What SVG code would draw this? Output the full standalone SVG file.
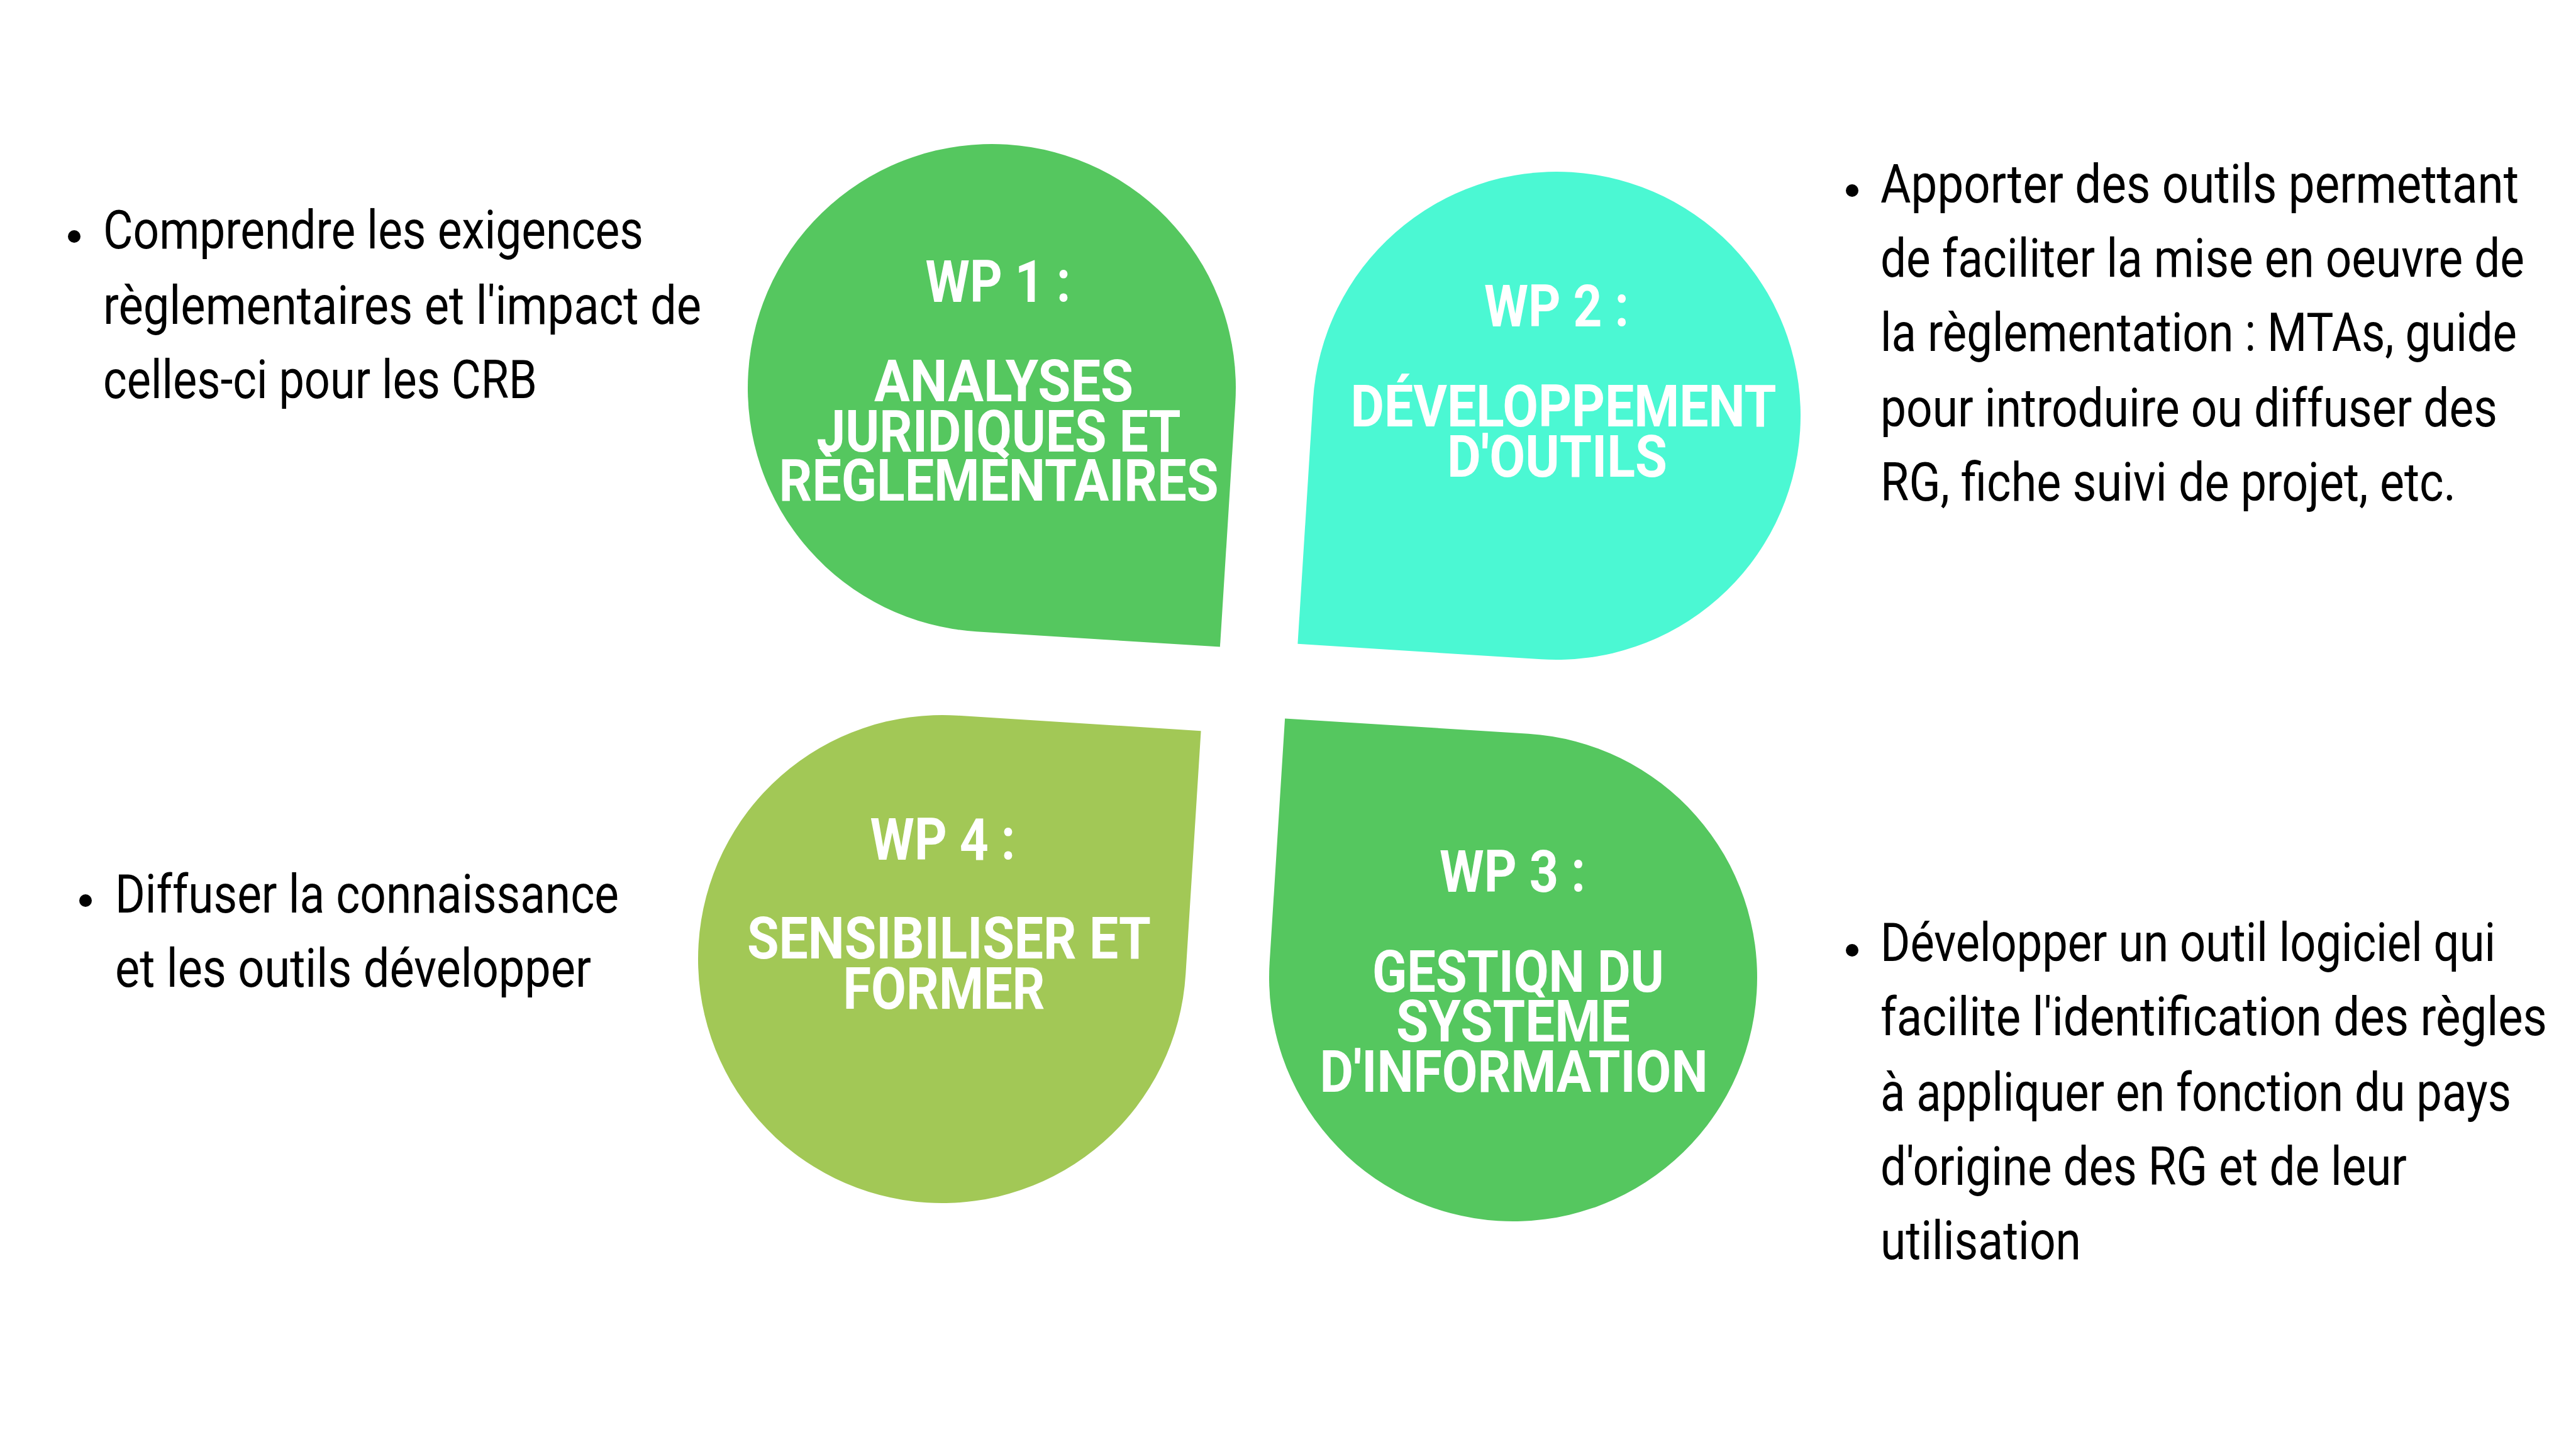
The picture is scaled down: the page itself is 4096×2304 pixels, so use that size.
<svg xmlns="http://www.w3.org/2000/svg" width="4096" height="2304" viewBox="0 0 4096 2304">
<defs>
<style>
.title{font-family:Roboto,"Liberation Sans",sans-serif;font-weight:700;font-size:92px;fill:#ffffff;text-anchor:middle}
.body{font-family:Roboto,"Liberation Sans",sans-serif;font-weight:400;font-size:85px;fill:#000000}
.g1{fill:#55C75F}
.g2{fill:#4BF8D3}
.g4{fill:#A2C856}
.dot{fill:#000000}
</style>
<path id="drop" d="M -388 0 A 388 388 0 0 1 0 -388 A 388 388 0 0 1 388 0 L 388 388 L 0 388 A 388 388 0 0 1 -388 0 Z"/>
</defs>
<rect width="4096" height="2304" fill="#ffffff"/>
<g id="connectors"></g>
<g id="wp1">
<use href="#drop" class="g1" transform="translate(1577 617) rotate(3.6)"/>
<text class="title" x="1587" y="480" textLength="231" lengthAdjust="spacingAndGlyphs">WP 1 :</text>
<text class="title" x="1596" y="638" textLength="412" lengthAdjust="spacingAndGlyphs">ANALYSES</text>
<text class="title" x="1588" y="718" textLength="579" lengthAdjust="spacingAndGlyphs">JURIDIQUES ET</text>
<text class="title" x="1588" y="796" textLength="699" lengthAdjust="spacingAndGlyphs">RÈGLEMENTAIRES</text>
</g>
<g id="wp2">
<use href="#drop" class="g2" transform="translate(2475 661) rotate(93.6)"/>
<text class="title" x="2475" y="519" textLength="230" lengthAdjust="spacingAndGlyphs">WP 2 :</text>
<text class="title" x="2486" y="678" textLength="677" lengthAdjust="spacingAndGlyphs">DÉVELOPPEMENT</text>
<text class="title" x="2476" y="758" textLength="350" lengthAdjust="spacingAndGlyphs">D'OUTILS</text>
</g>
<g id="wp3">
<use href="#drop" class="g1" transform="translate(2406 1554) rotate(183.6)"/>
<text class="title" x="2405" y="1418" textLength="232" lengthAdjust="spacingAndGlyphs">WP 3 :</text>
<text class="title" x="2414" y="1577" textLength="464" lengthAdjust="spacingAndGlyphs">GESTION DU</text>
<text class="title" x="2406" y="1656" textLength="372" lengthAdjust="spacingAndGlyphs">SYSTÈME</text>
<text class="title" x="2407" y="1736" textLength="617" lengthAdjust="spacingAndGlyphs">D'INFORMATION</text>
</g>
<g id="wp4">
<use href="#drop" class="g4" transform="translate(1498 1525) rotate(273.6)"/>
<text class="title" x="1499" y="1367" textLength="231" lengthAdjust="spacingAndGlyphs">WP 4 :</text>
<text class="title" x="1509" y="1524" textLength="642" lengthAdjust="spacingAndGlyphs">SENSIBILISER ET</text>
<text class="title" x="1501" y="1604" textLength="321" lengthAdjust="spacingAndGlyphs">FORMER</text>
</g>
<g id="note1">
<circle class="dot" cx="118" cy="376" r="10"/>
<text class="body" x="164" y="395" textLength="859" lengthAdjust="spacingAndGlyphs">Comprendre les exigences</text>
<text class="body" x="164" y="515" textLength="951" lengthAdjust="spacingAndGlyphs">règlementaires et l'impact de</text>
<text class="body" x="164" y="633" textLength="690" lengthAdjust="spacingAndGlyphs">celles-ci pour les CRB</text>
</g>
<g id="note2">
<circle class="dot" cx="2945" cy="303" r="10"/>
<text class="body" x="2990" y="322" textLength="1015" lengthAdjust="spacingAndGlyphs">Apporter des outils permettant</text>
<text class="body" x="2990" y="440" textLength="1024" lengthAdjust="spacingAndGlyphs">de faciliter la mise en oeuvre de</text>
<text class="body" x="2990" y="558" textLength="1012" lengthAdjust="spacingAndGlyphs">la règlementation : MTAs, guide</text>
<text class="body" x="2990" y="678" textLength="981" lengthAdjust="spacingAndGlyphs">pour introduire ou diffuser des</text>
<text class="body" x="2990" y="796" textLength="915" lengthAdjust="spacingAndGlyphs">RG, fiche suivi de projet, etc.</text>
</g>
<g id="note4">
<circle class="dot" cx="136" cy="1432" r="10"/>
<text class="body" x="183" y="1451" textLength="801" lengthAdjust="spacingAndGlyphs">Diffuser la connaissance</text>
<text class="body" x="183" y="1569" textLength="757" lengthAdjust="spacingAndGlyphs">et les outils développer</text>
</g>
<g id="note3">
<circle class="dot" cx="2945" cy="1511" r="10"/>
<text class="body" x="2990" y="1528" textLength="978" lengthAdjust="spacingAndGlyphs">Développer un outil logiciel qui</text>
<text class="body" x="2990" y="1646" textLength="1060" lengthAdjust="spacingAndGlyphs">facilite l'identification des règles</text>
<text class="body" x="2990" y="1766" textLength="1003" lengthAdjust="spacingAndGlyphs">à appliquer en fonction du pays</text>
<text class="body" x="2990" y="1884" textLength="837" lengthAdjust="spacingAndGlyphs">d'origine des RG et de leur</text>
<text class="body" x="2990" y="2002" textLength="319" lengthAdjust="spacingAndGlyphs">utilisation</text>
</g>
</svg>
